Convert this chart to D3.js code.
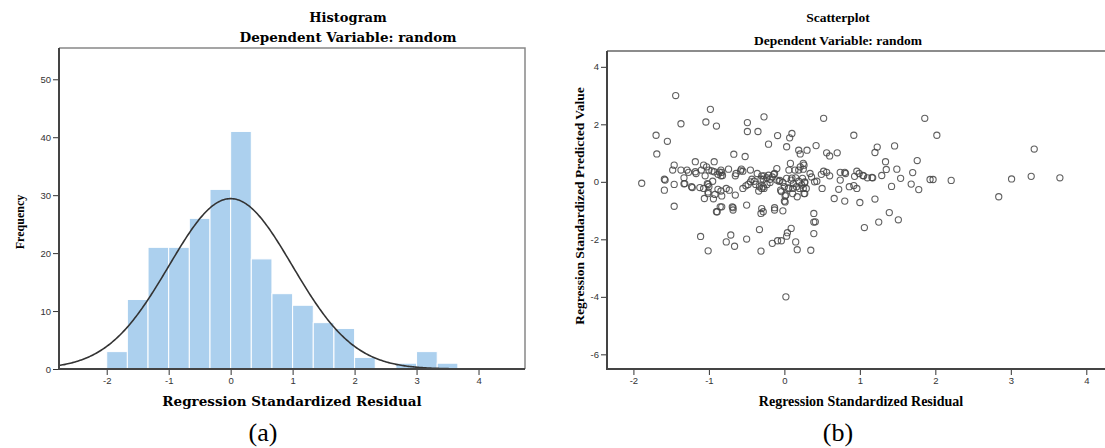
<!DOCTYPE html>
<html>
<head>
<meta charset="utf-8">
<script src="https://cdn.jsdelivr.net/npm/d3@7"></script>
<style>
  body { margin: 0; background: #fff; }
  svg { display: block; }
</style>
</head>
<body>
<div id="chart-area"></div>
<script>
const svgWidth = 1105, svgHeight = 448;

// histogram data: lower edge of each bin and its count (bin width 1/3)
const binLow = [-2, -1.667, -1.333, -1, -0.667, -0.333, 0, 0.333, 0.667, 1, 1.333, 1.667, 2, 2.333, 2.667, 3, 3.333];
const binCount = [3, 12, 21, 21, 26, 31, 41, 19, 13, 11, 8, 7, 2, 0, 1, 3, 1];
const binWidth = 1 / 3;
// fitted normal curve parameters
const curveMean = 0, curveSd = 0.995, curveN = 220;

const histYTicks = [0, 10, 20, 30, 40, 50];
const histXTicks = [-2, -1, 0, 1, 2, 3, 4];
const scatYTicks = [-6, -4, -2, 0, 2, 4];
const scatXTicks = [-2, -1, 0, 1, 2, 3, 4];

// scatter data: standardized residual (x) and standardized predicted value (y)
const residual = [
  -1.89, -1.70, -1.69, -1.55, -1.44, -1.37, -1.04, -0.98, -0.90, -0.67, -0.52, -0.49, -0.49, -0.35, -0.27, -0.21,
  -0.09, 0.03, 0.07, 0.10, 0.19, 0.21, 0.30, 0.42, 0.52, 0.56, 0.60, 0.70, 0.92, 1.20, 1.23, 1.46, 1.34, 1.76,
  1.86, 2.02, 1.70, 1.93, 1.97, 2.21, 1.68, 1.78, 1.54, 1.49, 1.42, 1.35, 1.29, 1.20, 1.39, 1.51, 1.25, 2.84,
  3.01, 3.27, 3.31, 3.65,
  -1.18, -0.93, -1.07, -1.03, -1.46, -1.48, -1.37, -1.29, -1.27, -1.18, -1.17, -1.10, -1.00, -0.93, -0.84, -0.83,
  -0.74, -0.57, -0.55, -0.65, -0.45, -0.36, -0.30, -0.28, -1.33, -1.05, -0.88, -0.84, -1.59, -1.58, -1.46, -1.32,
  -1.22, -1.12, -1.01, -1.00, -0.95, -1.59, -1.06, -1.01, -0.88, -0.84, -0.77, -0.73, -0.83, -0.65, -0.55, -0.51,
  -0.48, -0.45, -0.43, -0.40, -0.38, -0.50, -0.34, -0.30, -0.28, -1.46, -0.89, -0.83, -0.69, -0.68, -0.30, -0.28,
  -1.33, -1.23, -1.02, -1.07, -0.92, -0.94, -1.01, -0.02, 0.01, 0.01, -0.85, -0.58, -0.64, -0.82, -0.86, -0.96,
  0.08, 0.25, 0.21, 0.25, 0.19, 0.14, 0.06, -0.10, -0.13, -0.16, -0.19, -0.21, -0.23, -0.27, -0.31, -0.33,
  -0.27, -0.23, -0.19, -0.10, -0.07, -0.02, 0.03, 0.09, 0.12, 0.15, 0.19, 0.24, 0.23, 0.27, 0.00, 0.05,
  0.11, -0.05, 0.02, 0.00, 0.16, 0.25, 0.29, 0.27, 0.34, 0.36, 0.40, 0.43, 0.50, 0.49, 0.52, 0.56,
  0.60, 0.72, 0.74, 0.74, 0.80, 0.86, 0.92, 0.96, 0.96, 0.99, 1.05, 1.10, 1.17, 0.66, 0.80, 1.00,
  -0.13, -0.04, -0.06, -0.14, 0.06, 0.11, 0.17, 0.26, 0.20, 0.27, 0.26, 0.10, 0.93, 1.04, 1.16, 0.81,
  -1.11, -1.01, -0.77, -0.71, -0.66, -0.50, -0.33, -0.31, -0.16, -0.09, -0.04, 0.03, 0.04, 0.09, 0.15, 0.17,
  0.35, 0.39, 0.39, 0.41, 0.39, 0.02, 1.06, -0.90, -0.68, -0.31, -0.13
];
const predicted = [
  -0.05, 1.62, 0.97, 1.41, 3.00, 2.02, 2.08, 2.52, 1.94, 0.96, 0.88, 2.06, 1.75, 1.75, 2.26, 1.31,
  1.61, 1.22, 1.53, 1.68, 1.10, 0.97, 1.10, 1.26, 2.21, 1.01, 0.90, 1.01, 1.62, 1.02, 1.21, 1.25, 0.70, 0.74,
  2.21, 1.62, 0.32, 0.08, 0.08, 0.05, -0.08, -0.27, 0.12, 0.44, -0.16, 0.43, 0.22, -0.60, -1.07, -1.32, -1.40, -0.52,
  0.10, 0.19, 1.14, 0.14,
  0.70, 0.70, 0.58, 0.52, 0.58, 0.41, 0.41, 0.41, 0.33, 0.35, 0.29, 0.41, 0.41, 0.35, 0.41, 0.33,
  0.44, 0.44, 0.37, 0.21, 0.41, 0.29, 0.21, 0.09, 0.14, 0.21, 0.26, 0.21, 0.09, 0.06, -0.09, -0.06,
  -0.20, -0.20, -0.09, -0.17, 0.02, -0.29, -0.58, -0.41, -0.26, -0.32, -0.23, -0.29, -0.49, -0.46, -0.23, -0.14,
  -0.09, 0.00, 0.09, 0.02, -0.09, -0.81, -0.32, -0.23, -0.17, -0.85, -1.04, -0.87, -0.87, -0.90, -0.93, -1.04,
  -0.07, -0.17, -0.06, -0.23, -0.44, -0.59, -0.35, -1.01, -0.49, -0.70, -0.87, 0.38, 0.29, 0.22, 0.34, 0.38,
  0.64, 0.64, 0.52, 0.44, 0.41, 0.41, 0.41, 0.46, 0.29, 0.17, 0.09, 0.23, 0.14, 0.21, 0.09, -0.17,
  -0.23, -0.09, -0.02, 0.06, 0.02, -0.02, 0.12, 0.06, -0.06, 0.14, 0.02, 0.12, -0.11, 0.00, -0.17, -0.23,
  -0.23, -0.29, -0.46, -0.67, -0.17, -0.23, -0.23, -0.41, 0.29, 0.17, 0.00, 0.02, -0.23, 0.26, 0.37, 0.33,
  0.21, -0.26, 0.06, 0.33, 0.33, -0.17, -0.13, -0.23, 0.37, 0.29, 0.21, 0.14, 0.14, -0.58, -0.67, -0.72,
  -0.90, -0.34, 0.05, 0.26, -0.21, -0.41, -0.52, -0.41, -0.23, -0.03, 0.58, 0.13, 0.19, 0.22, 0.15, 0.29,
  -1.90, -2.40, -2.09, -1.85, -2.24, -1.99, -1.66, -2.41, -2.14, -2.05, -2.05, -1.89, -1.77, -1.62, -2.09, -2.36,
  -2.38, -1.80, -1.40, -1.39, -1.10, -4.00, -1.59, -1.04, -0.98, -1.10, -0.98
];

const svg = d3.select("#chart-area")
  .append("svg")
    .attr("width", svgWidth)
    .attr("height", svgHeight);

const tickFont = "'Liberation Sans', Arial, sans-serif";
const wideSerif = "'DejaVu Serif', serif";
const timesSerif = "'Liberation Serif', 'Times New Roman', serif";
const plainNum = d => String(d);   // keeps the hyphen, as in the original

function styleAxis(g) {
  g.select(".domain").remove();
  g.selectAll(".tick line").attr("stroke", "#333").attr("stroke-width", 1);
  g.selectAll(".tick text")
    .attr("font-family", tickFont)
    .attr("font-size", 9.5)
    .attr("fill", "#333");
}

// ---------- (a) histogram ----------
const hx = d3.scaleLinear().domain([-2.77, 4.75]).range([59, 525]);
const hy = d3.scaleLinear().domain([0, 55.4]).range([369, 48]);

const hist = svg.append("g");

hist.selectAll("rect.bar")
  .data(binLow.map((lo, i) => ({ lo: lo, n: binCount[i] })).filter(d => d.n > 0))
  .enter()
  .append("rect")
    .attr("class", "bar")
    .attr("x", d => hx(d.lo))
    .attr("y", d => hy(d.n))
    .attr("width", d => hx(d.lo + binWidth) - hx(d.lo))
    .attr("height", d => hy(0) - hy(d.n))
    .attr("fill", "#acd0ee")
    .attr("stroke", "#ffffff")
    .attr("stroke-width", 1);

const curveXs = d3.range(hx.domain()[0], hx.domain()[1] + 0.001, 0.02);
const normal = x => curveN * binWidth * Math.exp(-0.5 * ((x - curveMean) / curveSd) ** 2) / (curveSd * Math.sqrt(2 * Math.PI));
hist.append("path")
  .datum(curveXs)
  .attr("d", d3.line().x(d => hx(d)).y(d => hy(normal(d))))
  .attr("fill", "none")
  .attr("stroke", "#333")
  .attr("stroke-width", 1.6);

// frame
hist.append("path")
  .attr("d", `M${hx.range()[0]},${hy.range()[1]}H${hx.range()[1]}V${hy.range()[0]}`)
  .attr("fill", "none").attr("stroke", "#888").attr("stroke-width", 1.5);
hist.append("path")
  .attr("d", `M${hx.range()[0]},${hy.range()[1]}V${hy.range()[0]}H${hx.range()[1]}`)
  .attr("fill", "none").attr("stroke", "#444").attr("stroke-width", 2);

hist.append("g")
  .attr("transform", `translate(${hx.range()[0] - 1},0)`)
  .call(d3.axisLeft(hy).tickValues(histYTicks).tickFormat(plainNum).tickSize(5).tickPadding(2))
  .call(styleAxis);
hist.append("g")
  .attr("transform", `translate(0,${hy.range()[0] + 1})`)
  .call(d3.axisBottom(hx).tickValues(histXTicks).tickFormat(plainNum).tickSize(5).tickPadding(2))
  .call(styleAxis);

hist.append("text").text("Histogram")
  .attr("x", 348).attr("y", 22)
  .attr("text-anchor", "middle")
  .attr("font-family", wideSerif).attr("font-weight", 700).attr("font-size", 13);
hist.append("text").text("Dependent Variable: random")
  .attr("x", 348).attr("y", 42)
  .attr("text-anchor", "middle")
  .attr("font-family", wideSerif).attr("font-weight", 700).attr("font-size", 13.5);
hist.append("text").text("Frequency")
  .attr("transform", "translate(24,222) rotate(-90)")
  .attr("text-anchor", "middle")
  .attr("font-family", timesSerif).attr("font-weight", 700).attr("font-size", 12);
hist.append("text").text("Regression Standardized Residual")
  .attr("x", 292).attr("y", 406)
  .attr("text-anchor", "middle")
  .attr("font-family", wideSerif).attr("font-weight", 700).attr("font-size", 13.5);
hist.append("text").text("(a)")
  .attr("x", 263).attr("y", 441)
  .attr("text-anchor", "middle")
  .attr("font-family", timesSerif).attr("font-size", 26);

// ---------- (b) scatterplot ----------
const sx = d3.scaleLinear().domain([-2.35, 4.314]).range([607, 1110]);
const sy = d3.scaleLinear().domain([-6.51, 4.55]).range([369, 51]);

const scat = svg.append("g");

scat.append("path")
  .attr("d", `M${sx.range()[0]},${sy.range()[1]}H${sx.range()[1]}`)
  .attr("fill", "none").attr("stroke", "#666").attr("stroke-width", 1.5);
scat.append("path")
  .attr("d", `M${sx.range()[0]},${sy.range()[1]}V${sy.range()[0]}H${sx.range()[1]}`)
  .attr("fill", "none").attr("stroke", "#444").attr("stroke-width", 2);

scat.selectAll("circle")
  .data(residual.map((r, i) => ({ x: r, y: predicted[i] })))
  .enter()
  .append("circle")
    .attr("cx", d => sx(d.x))
    .attr("cy", d => sy(d.y))
    .attr("r", 3.1)
    .attr("fill", "none")
    .attr("stroke", "#444")
    .attr("stroke-opacity", 0.85)
    .attr("stroke-width", 1.1);

scat.append("g")
  .attr("transform", `translate(${sx.range()[0] - 1},0)`)
  .call(d3.axisLeft(sy).tickValues(scatYTicks).tickFormat(plainNum).tickSize(5).tickPadding(2))
  .call(styleAxis);
scat.append("g")
  .attr("transform", `translate(0,${sy.range()[0] + 1})`)
  .call(d3.axisBottom(sx).tickValues(scatXTicks).tickFormat(plainNum).tickSize(5).tickPadding(2))
  .call(styleAxis);

scat.append("text").text("Scatterplot")
  .attr("x", 838).attr("y", 22)
  .attr("text-anchor", "middle")
  .attr("font-family", timesSerif).attr("font-weight", 700).attr("font-size", 13.5);
scat.append("text").text("Dependent Variable: random")
  .attr("x", 838).attr("y", 45)
  .attr("text-anchor", "middle")
  .attr("font-family", timesSerif).attr("font-weight", 700).attr("font-size", 13.5);
scat.append("text").text("Regression Standardized Predicted Value")
  .attr("transform", "translate(584,206) rotate(-90)")
  .attr("text-anchor", "middle")
  .attr("font-family", timesSerif).attr("font-weight", 700).attr("font-size", 13.5);
scat.append("text").text("Regression Standardized Residual")
  .attr("x", 861).attr("y", 406)
  .attr("text-anchor", "middle")
  .attr("font-family", timesSerif).attr("font-weight", 700).attr("font-size", 14);
scat.append("text").text("(b)")
  .attr("x", 838).attr("y", 441)
  .attr("text-anchor", "middle")
  .attr("font-family", timesSerif).attr("font-size", 26);
</script>
</body>
</html>
